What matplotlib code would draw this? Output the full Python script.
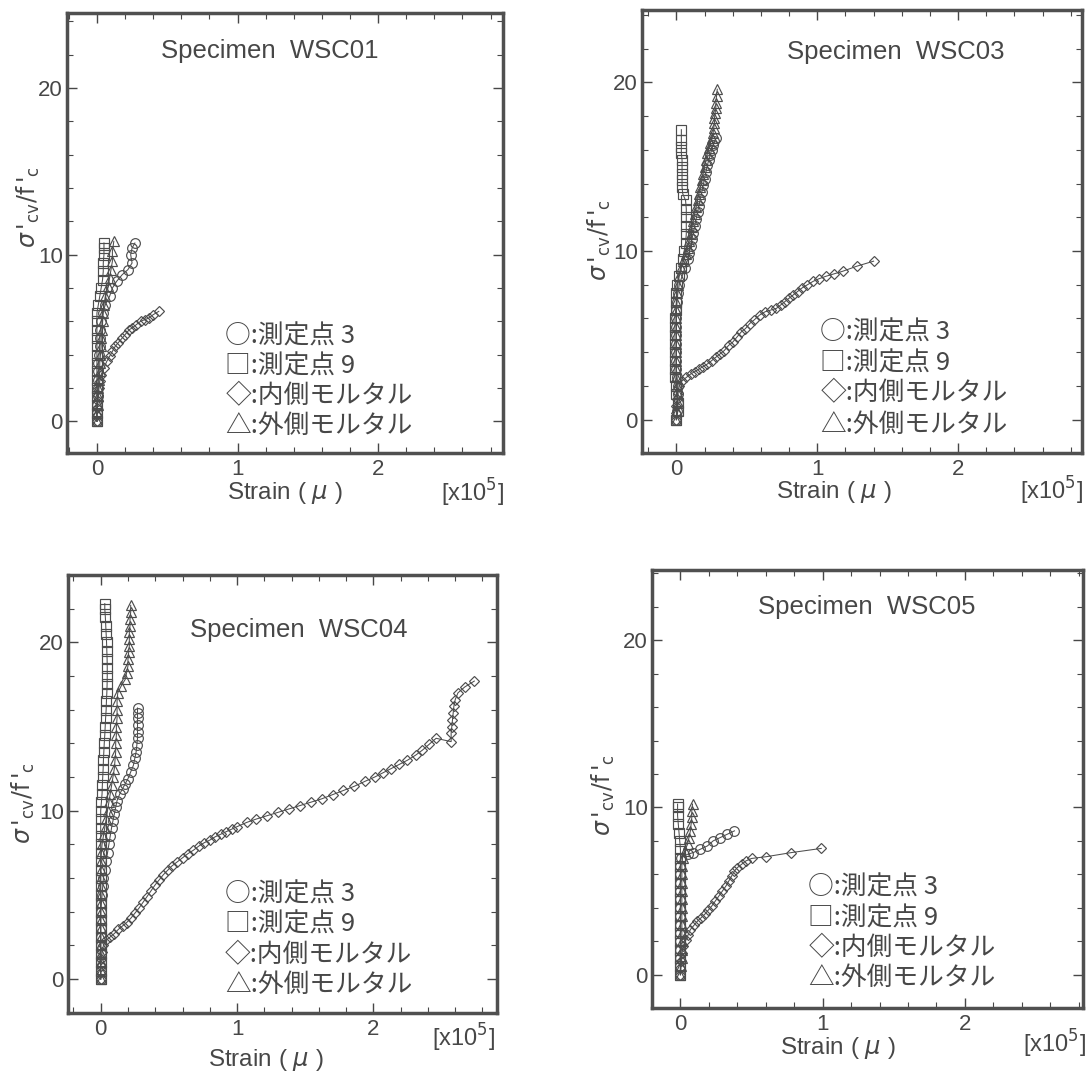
import matplotlib
matplotlib.use("Agg")
import matplotlib.pyplot as plt
from matplotlib.ticker import MultipleLocator

plt.rcParams['font.family'] = ['Liberation Sans', 'DejaVu Sans']
plt.rcParams['mathtext.fontset'] = 'dejavusans'

# ---------------- data ----------------
specimens = ["WSC01", "WSC03", "WSC04", "WSC05"]
legend_labels = ["○:測定点 3", "□:測定点 9", "◇:内側モルタル", "△:外側モルタル"]
x_major_ticks = [0, 1, 2]
y_major_ticks = [0, 10, 20]

# WSC01
wsc01_p3_x = [0.0, 0.0, 0.0, 0.005, 0.005, 0.01, 0.01, 0.01, 0.015, 0.02, 0.02, 0.025, 0.03, 0.04, 0.06, 0.09, 0.11, 0.14, 0.18, 0.22, 0.25, 0.24, 0.25, 0.27]
wsc01_p3_y = [0.0, 0.5, 1.0, 1.5, 2.0, 2.5, 3.0, 3.5, 4.0, 4.5, 5.0, 5.5, 6.0, 6.5, 7.0, 7.5, 8.0, 8.4, 8.8, 9.1, 9.5, 10.0, 10.4, 10.7]
wsc01_p9_x = [0.0, 0.0, 0.0, 0.0, 0.0, 0.0, 0.0, 0.0, 0.0, 0.0, 0.0, 0.0, 0.0, 0.0, 0.01, 0.02, 0.03, 0.04, 0.045, 0.045, 0.05, 0.05, 0.05]
wsc01_p9_y = [0.0, 0.5, 1.0, 1.5, 2.0, 2.5, 3.0, 3.5, 4.0, 4.5, 5.0, 5.5, 6.0, 6.5, 7.0, 7.5, 8.0, 8.5, 9.0, 9.5, 10.0, 10.4, 10.7]
wsc01_in_x = [0.0, 0.0, 0.0, 0.005, 0.01, 0.015, 0.02, 0.03, 0.05, 0.07, 0.09, 0.11, 0.13, 0.15, 0.18, 0.2, 0.23, 0.25, 0.28, 0.31, 0.34, 0.37, 0.4, 0.44]
wsc01_in_y = [0.0, 0.4, 0.8, 1.2, 1.6, 2.0, 2.4, 2.8, 3.2, 3.6, 3.9, 4.2, 4.5, 4.7, 5.0, 5.2, 5.5, 5.6, 5.8, 6.0, 6.1, 6.2, 6.4, 6.6]
wsc01_out_x = [0.0, 0.0, 0.005, 0.01, 0.01, 0.015, 0.02, 0.02, 0.025, 0.03, 0.03, 0.035, 0.04, 0.045, 0.05, 0.06, 0.08, 0.09, 0.1, 0.11, 0.11, 0.12]
wsc01_out_y = [0.0, 0.5, 1.0, 1.5, 2.0, 2.5, 3.0, 3.5, 4.0, 4.5, 5.0, 5.5, 6.0, 6.5, 7.0, 7.5, 8.1, 8.6, 9.1, 9.6, 10.2, 10.8]

# WSC03
wsc03_p3_x = [0.0, 0.005, 0.01, 0.01, 0.01, 0.005, 0.0, 0.0, 0.0, 0.0, 0.0, 0.0, 0.0, 0.0, 0.005, 0.01, 0.02, 0.04, 0.06, 0.08,
              0.09, 0.1, 0.11, 0.12, 0.13, 0.14, 0.15, 0.16, 0.17, 0.18, 0.19, 0.2, 0.21, 0.22, 0.23, 0.24, 0.25, 0.26, 0.27, 0.28]
wsc03_p3_y = [0.0, 0.5, 1.0, 1.5, 2.0, 2.5, 3.0, 3.5, 4.0, 4.5, 5.0, 5.5, 6.0, 6.5, 7.0, 7.5, 8.0, 8.5, 9.0, 9.5,
              9.9, 10.3, 10.7, 11.1, 11.5, 11.9, 12.3, 12.7, 13.1, 13.5, 13.9, 14.3, 14.7, 15.1, 15.4, 15.7, 16.0, 16.3, 16.5, 16.7]
wsc03_p9_x = [0.0, 0.01, 0.01, 0.0, 0.0, -0.01, -0.01, -0.01, -0.01, -0.01, -0.01, -0.01, -0.01, -0.005, 0.0, 0.0, 0.005, 0.015,
              0.03, 0.045, 0.055, 0.065, 0.07, 0.07, 0.07, 0.07, 0.065, 0.045, 0.04, 0.04, 0.04, 0.04, 0.04, 0.035, 0.035, 0.035, 0.035]
wsc03_p9_y = [0.0, 0.5, 1.0, 1.5, 2.0, 2.5, 3.0, 3.5, 4.0, 4.5, 5.0, 5.5, 6.0, 6.5, 7.0, 7.5, 8.0, 8.5,
              9.0, 9.5, 10.0, 10.5, 11.0, 11.5, 12.0, 12.5, 13.0, 13.4, 13.8, 14.2, 14.6, 15.0, 15.4, 15.8, 16.2, 16.6, 17.2]
wsc03_in_x = [0.0, 0.0, 0.0, 0.005, 0.01, 0.02, 0.04, 0.07, 0.1, 0.13, 0.16, 0.19, 0.22, 0.25, 0.28, 0.31, 0.34, 0.37, 0.4, 0.43, 0.46,
              0.49, 0.52, 0.55, 0.59, 0.63, 0.67, 0.71, 0.74, 0.77, 0.8, 0.83, 0.86, 0.89, 0.93, 0.97, 1.01, 1.06, 1.12, 1.18, 1.28, 1.4]
wsc03_in_y = [0.0, 0.4, 0.8, 1.2, 1.6, 2.0, 2.3, 2.5, 2.7, 2.85, 3.0, 3.15, 3.3, 3.5, 3.7, 3.9, 4.1, 4.4, 4.6, 4.9, 5.2,
              5.4, 5.7, 5.9, 6.2, 6.4, 6.5, 6.6, 6.8, 7.0, 7.2, 7.4, 7.6, 7.8, 8.0, 8.2, 8.35, 8.5, 8.65, 8.8, 9.1, 9.4]
wsc03_out_x = [0.0, 0.005, 0.01, 0.01, 0.005, 0.0, 0.0, 0.0, 0.0, 0.0, 0.0, 0.0, 0.0, 0.0, 0.0, 0.005, 0.01, 0.02, 0.035, 0.05,
               0.065, 0.08, 0.09, 0.1, 0.11, 0.12, 0.13, 0.14, 0.15, 0.16, 0.17, 0.18, 0.19, 0.2, 0.21, 0.22, 0.23, 0.24,
               0.25, 0.26, 0.265, 0.27, 0.27, 0.275, 0.28, 0.28, 0.285, 0.29]
wsc03_out_y = [0.0, 0.5, 1.0, 1.5, 2.0, 2.5, 3.0, 3.5, 4.0, 4.5, 5.0, 5.5, 6.0, 6.5, 7.0, 7.5, 8.0, 8.5, 9.0, 9.4,
               9.8, 10.2, 10.6, 11.0, 11.4, 11.8, 12.2, 12.6, 13.0, 13.4, 13.8, 14.2, 14.6, 15.0, 15.4, 15.8, 16.1, 16.4,
               16.7, 17.0, 17.3, 17.6, 17.9, 18.2, 18.5, 18.8, 19.2, 19.6]

# WSC04
wsc04_p3_x = [0.0, 0.0, 0.0, 0.0, 0.0, 0.0, 0.0, 0.0, 0.0, 0.005, 0.01, 0.015, 0.02, 0.03, 0.04, 0.05, 0.06, 0.07, 0.08,
              0.09, 0.1, 0.11, 0.12, 0.14, 0.16, 0.18, 0.2, 0.22, 0.24, 0.25, 0.26, 0.265, 0.27, 0.27, 0.27, 0.27, 0.27, 0.27]
wsc04_p3_y = [0.0, 0.5, 1.0, 1.5, 2.0, 2.5, 3.0, 3.5, 4.0, 4.5, 5.0, 5.5, 6.0, 6.5, 7.0, 7.5, 8.0, 8.5, 9.0,
              9.4, 9.8, 10.2, 10.6, 11.0, 11.3, 11.6, 11.9, 12.3, 12.7, 13.1, 13.5, 13.9, 14.3, 14.7, 15.1, 15.5, 15.8, 16.1]
wsc04_p9_x = [0.0, 0.0, 0.0, 0.0, 0.0, 0.0, 0.0, 0.0, 0.0, 0.0, 0.0, 0.0, 0.0, 0.0, 0.0, 0.0, 0.0, 0.0, 0.0, 0.0, 0.0,
              0.005, 0.01, 0.012, 0.015, 0.018, 0.02, 0.023, 0.026, 0.03, 0.033, 0.036, 0.04, 0.042, 0.045, 0.047, 0.048,
              0.048, 0.047, 0.045, 0.043, 0.04, 0.037, 0.034, 0.03, 0.03]
wsc04_p9_y = [0.0, 0.5, 1.0, 1.5, 2.0, 2.5, 3.0, 3.5, 4.0, 4.5, 5.0, 5.5, 6.0, 6.5, 7.0, 7.5, 8.0, 8.5, 9.0, 9.5, 10.0,
              10.5, 11.0, 11.5, 12.0, 12.5, 13.0, 13.5, 14.0, 14.5, 15.0, 15.5, 16.0, 16.5, 17.0, 17.5, 18.0,
              18.5, 19.0, 19.5, 20.0, 20.5, 21.0, 21.5, 22.0, 22.3]
wsc04_in_x = [0.0, 0.0, 0.0, 0.005, 0.01, 0.02, 0.04, 0.07, 0.1, 0.13, 0.16, 0.19, 0.22, 0.25, 0.28, 0.31, 0.34, 0.37, 0.4,
              0.43, 0.46, 0.49, 0.52, 0.56, 0.6, 0.64, 0.68, 0.72, 0.76, 0.8, 0.84, 0.88, 0.92, 0.96, 1.0, 1.07, 1.14,
              1.22, 1.3, 1.38, 1.46, 1.54, 1.62, 1.7, 1.78, 1.86, 1.94, 2.01, 2.07, 2.13, 2.19, 2.25, 2.31, 2.36, 2.41,
              2.46, 2.57, 2.57, 2.575, 2.58, 2.585, 2.59, 2.6, 2.62, 2.67, 2.74]
wsc04_in_y = [0.0, 0.4, 0.8, 1.2, 1.6, 2.0, 2.3, 2.5, 2.7, 2.95, 3.15, 3.35, 3.6, 3.9, 4.2, 4.55, 4.9, 5.25, 5.6,
              5.9, 6.2, 6.45, 6.7, 6.95, 7.2, 7.45, 7.65, 7.9, 8.1, 8.25, 8.45, 8.6, 8.75, 8.9, 9.05, 9.3, 9.5,
              9.7, 9.9, 10.1, 10.3, 10.5, 10.7, 10.95, 11.2, 11.45, 11.75, 12.0, 12.25, 12.5, 12.75, 13.0, 13.3, 13.6, 13.95,
              14.3, 14.1, 14.6, 15.0, 15.4, 15.8, 16.2, 16.6, 17.0, 17.35, 17.7]
wsc04_out_x = [0.0, 0.0, 0.0, 0.0, 0.0, 0.0, 0.0, 0.0, 0.0, 0.0, 0.0, 0.0, 0.0, 0.0, 0.0, 0.005, 0.01, 0.02, 0.03, 0.04,
               0.05, 0.06, 0.07, 0.08, 0.09, 0.1, 0.105, 0.11, 0.11, 0.115, 0.115, 0.12, 0.12, 0.12, 0.125,
               0.15, 0.18, 0.19, 0.2, 0.2, 0.205, 0.21, 0.21, 0.21, 0.215, 0.215, 0.22, 0.22]
wsc04_out_y = [0.0, 0.5, 1.0, 1.5, 2.0, 2.5, 3.0, 3.5, 4.0, 4.5, 5.0, 5.5, 6.0, 6.5, 7.0, 7.5, 8.0, 8.5, 9.0, 9.5,
               10.0, 10.5, 11.0, 11.5, 12.0, 12.5, 13.0, 13.5, 14.0, 14.5, 15.0, 15.5, 16.0, 16.5, 17.0,
               17.4, 17.8, 18.2, 18.6, 19.0, 19.4, 19.8, 20.2, 20.6, 21.0, 21.4, 21.8, 22.2]

# WSC05
wsc05_p3_x = [0.0, 0.0, 0.0, 0.0, 0.0, 0.0, 0.0, 0.0, 0.0, 0.0, 0.0, 0.0, 0.0, 0.0, 0.005, 0.05, 0.09, 0.14, 0.19, 0.23, 0.28, 0.33, 0.38]
wsc05_p3_y = [0.0, 0.5, 1.0, 1.5, 2.0, 2.5, 3.0, 3.5, 4.0, 4.5, 5.0, 5.5, 6.0, 6.5, 7.0, 7.2, 7.3, 7.5, 7.7, 8.0, 8.2, 8.4, 8.6]
wsc05_p9_x = [0.0, 0.0, 0.0, 0.0, 0.0, 0.0, 0.0, 0.0, 0.0, 0.0, 0.0, 0.0, 0.0, 0.0, 0.0, 0.0, -0.005, -0.01, -0.015, -0.02, -0.02, -0.02]
wsc05_p9_y = [0.0, 0.5, 1.0, 1.5, 2.0, 2.5, 3.0, 3.5, 4.0, 4.5, 5.0, 5.5, 6.0, 6.5, 7.0, 7.5, 8.0, 8.5, 9.0, 9.5, 10.0, 10.2]
wsc05_in_x = [0.0, 0.0, 0.005, 0.01, 0.02, 0.04, 0.055, 0.07, 0.095, 0.12, 0.145, 0.17, 0.195, 0.22, 0.245, 0.27, 0.295, 0.32,
              0.34, 0.36, 0.38, 0.4, 0.43, 0.46, 0.5, 0.6, 0.78, 0.99]
wsc05_in_y = [0.0, 0.4, 0.8, 1.3, 1.7, 2.1, 2.4, 2.7, 2.95, 3.2, 3.4, 3.6, 3.85, 4.1, 4.4, 4.7, 5.0, 5.3,
              5.6, 5.9, 6.2, 6.4, 6.6, 6.8, 6.95, 7.05, 7.3, 7.55]
wsc05_out_x = [0.0, 0.005, 0.01, 0.01, 0.01, 0.01, 0.01, 0.01, 0.01, 0.01, 0.01, 0.01, 0.01, 0.01, 0.015, 0.03, 0.05, 0.06, 0.07, 0.075, 0.08, 0.08, 0.085]
wsc05_out_y = [0.0, 0.5, 1.0, 1.5, 2.0, 2.5, 3.0, 3.5, 4.0, 4.5, 5.0, 5.5, 6.0, 6.5, 7.0, 7.4, 7.8, 8.2, 8.6, 9.0, 9.4, 9.8, 10.2]

panel_series = [
    [(wsc01_p3_x, wsc01_p3_y), (wsc01_p9_x, wsc01_p9_y), (wsc01_in_x, wsc01_in_y), (wsc01_out_x, wsc01_out_y)],
    [(wsc03_p3_x, wsc03_p3_y), (wsc03_p9_x, wsc03_p9_y), (wsc03_in_x, wsc03_in_y), (wsc03_out_x, wsc03_out_y)],
    [(wsc04_p3_x, wsc04_p3_y), (wsc04_p9_x, wsc04_p9_y), (wsc04_in_x, wsc04_in_y), (wsc04_out_x, wsc04_out_y)],
    [(wsc05_p3_x, wsc05_p3_y), (wsc05_p9_x, wsc05_p9_y), (wsc05_in_x, wsc05_in_y), (wsc05_out_x, wsc05_out_y)],
]

# ---------------- layout / style ----------------
INK = '#474747'
MARK = '#4d4d4d'
markers = ['o', 's', 'D', '^']
msizes = [7.0, 7.0, 5.6, 7.5]

layout = [
    dict(pos=[0.0614, 0.5782, 0.3996, 0.4097], xlim=(-0.213, 2.888), ylim=(-1.9, 24.5),
         title=(0.466, 0.913), leg=(0.363, [0.265, 0.197, 0.129, 0.061]),
         ylab=(-0.088, 0.56), xlab=(0.50, -0.091), unit=(0.93, -0.091)),
    dict(pos=[0.5885, 0.5782, 0.4033, 0.4125], xlim=(-0.244, 2.88), ylim=(-1.98, 24.3),
         title=(0.576, 0.906), leg=(0.405, [0.271, 0.203, 0.135, 0.064]),
         ylab=(-0.098, 0.48), xlab=(0.435, -0.089), unit=(0.93, -0.085)),
    dict(pos=[0.0623, 0.0568, 0.3932, 0.4078], xlim=(-0.24, 2.906), ylim=(-2.02, 24.0),
         title=(0.537, 0.875), leg=(0.366, [0.27, 0.202, 0.133, 0.065]),
         ylab=(-0.105, 0.48), xlab=(0.46, -0.107), unit=(0.923, -0.057)),
    dict(pos=[0.5976, 0.0615, 0.3950, 0.4078], xlim=(-0.2, 2.83), ylim=(-1.99, 24.2),
         title=(0.498, 0.916), leg=(0.363, [0.274, 0.205, 0.137, 0.068]),
         ylab=(-0.112, 0.486), xlab=(0.43, -0.091), unit=(0.935, -0.082)),
]

fig = plt.figure(figsize=(10.91, 10.74), dpi=100)
fig.patch.set_facecolor('white')

for name, series, L in zip(specimens, panel_series, layout):
    ax = fig.add_axes(L['pos'])
    for (xs, ys), mk, ms in zip(series, markers, msizes):
        ax.plot(xs, ys, color=MARK, lw=0.75, marker=mk, ms=ms,
                mfc='none', mec=MARK, mew=0.85)
    ax.set_xlim(*L['xlim'])
    ax.set_ylim(*L['ylim'])
    ax.set_xticks(x_major_ticks)
    ax.set_yticks(y_major_ticks)
    ax.xaxis.set_minor_locator(MultipleLocator(0.2))
    ax.yaxis.set_minor_locator(MultipleLocator(2))
    ax.tick_params(which='both', direction='in', top=True, right=True,
                   color=INK, labelcolor=INK, labelsize=16)
    ax.tick_params(which='major', length=7, width=1.0)
    ax.tick_params(which='minor', length=4, width=0.8)
    ax.tick_params(axis='x', which='major', pad=4)
    ax.tick_params(axis='y', which='major', pad=3)
    for sp in ax.spines.values():
        sp.set_linewidth(2.5)
        sp.set_color('#505050')

    ax.text(L['title'][0], L['title'][1], "Specimen  " + name, transform=ax.transAxes,
            ha='center', va='center', fontsize=18.5, color=INK)
    lx, lys = L['leg']
    for lab, ly in zip(legend_labels, lys):
        ax.text(lx, ly, lab, transform=ax.transAxes, ha='left', va='center',
                fontsize=18.5, color=INK, family=['Noto Sans CJK JP', 'DejaVu Sans'])

    ax.text(L['ylab'][0], L['ylab'][1], r"$\sigma\,'_{\rm cv}/{\rm f}\,'_{\rm c}$",
            transform=ax.transAxes, rotation=90, ha='center', va='center',
            fontsize=17, color=INK)
    ax.text(L['xlab'][0], L['xlab'][1], r"Strain ( $\mu$ )", transform=ax.transAxes,
            ha='center', va='center', fontsize=17.5, color=INK)
    ax.text(L['unit'][0], L['unit'][1], r"[x10$^{5}$]", transform=ax.transAxes,
            ha='center', va='center', fontsize=17, color=INK)

fig.savefig("out.png", dpi=100, facecolor='white')
